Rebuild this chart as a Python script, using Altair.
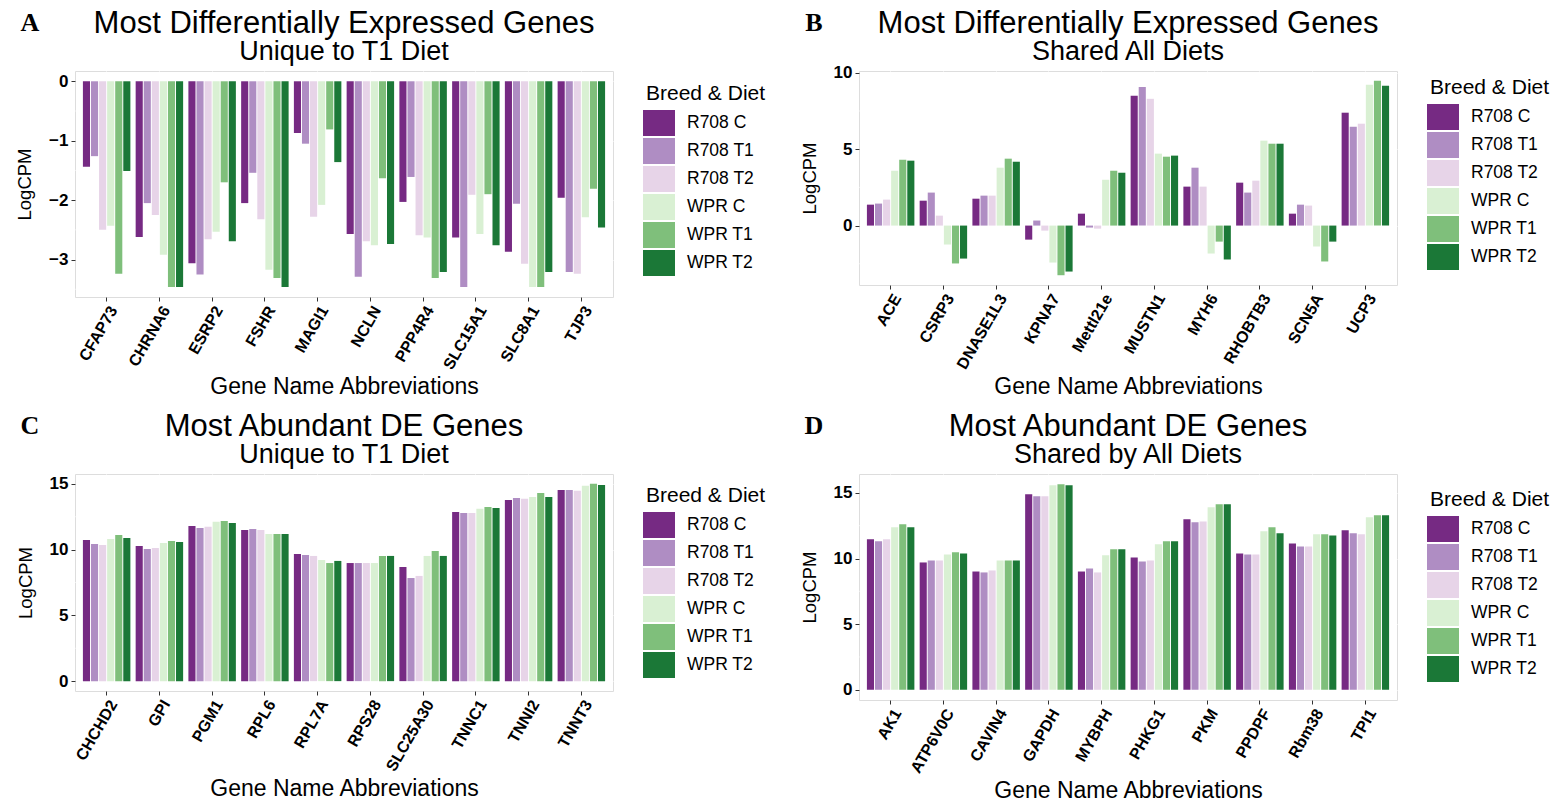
import altair as alt
import pandas as pd

FONT = "Liberation Sans"
GROUPS = ["R708 C", "R708 T1", "R708 T2", "WPR C", "WPR T1", "WPR T2"]
COLORS = ["#762a83", "#af8dc3", "#e7d4e8", "#d9f0d3", "#7fbf7b", "#1b7837"]

# ---- Panel A: Most Differentially Expressed Genes, Unique to T1 Diet
A_GENES = ["CFAP73", "CHRNA6", "ESRP2", "FSHR", "MAGI1", "NCLN", "PPP4R4", "SLC15A1", "SLC8A1", "TJP3"]
A_R708_C = [-1.44, -2.62, -3.06, -2.05, -0.87, -2.57, -2.03, -2.63, -2.87, -1.96]
A_R708_T1 = [-1.26, -2.05, -3.25, -1.54, -1.05, -3.29, -1.61, -3.46, -2.06, -3.21]
A_R708_T2 = [-2.50, -2.25, -2.66, -2.32, -2.28, -2.69, -2.59, -1.91, -3.07, -3.24]
A_WPR_C = [-2.43, -2.92, -2.53, -3.17, -2.08, -2.76, -2.63, -2.57, -3.46, -2.29]
A_WPR_T1 = [-3.24, -3.46, -1.70, -3.31, -0.81, -1.63, -3.31, -1.90, -3.46, -1.81]
A_WPR_T2 = [-1.51, -3.46, -2.69, -3.46, -1.36, -2.74, -3.21, -2.76, -3.21, -2.46]

# ---- Panel B: Most Differentially Expressed Genes, Shared All Diets
B_GENES = ["ACE", "CSRP3", "DNASE1L3", "KPNA7", "Mettl21e", "MUSTN1", "MYH6", "RHOBTB3", "SCN5A", "UCP3"]
B_R708_C = [1.37, 1.63, 1.76, -0.92, 0.78, 8.50, 2.55, 2.81, 0.78, 7.39]
B_R708_T1 = [1.44, 2.16, 1.96, 0.33, -0.13, 9.08, 3.79, 2.16, 1.37, 6.47]
B_R708_T2 = [1.70, 0.65, 1.96, -0.33, -0.20, 8.30, 2.55, 2.94, 1.31, 6.67]
B_WPR_C = [3.59, -1.24, 3.79, -2.42, 3.00, 4.71, -1.83, 5.56, -1.37, 9.22]
B_WPR_T1 = [4.31, -2.48, 4.38, -3.25, 3.59, 4.51, -1.05, 5.36, -2.35, 9.48]
B_WPR_T2 = [4.25, -2.16, 4.18, -3.01, 3.46, 4.58, -2.22, 5.36, -1.05, 9.15]

# ---- Panel C: Most Abundant DE Genes, Unique to T1 Diet
C_GENES = ["CHCHD2", "GPI", "PGM1", "RPL6", "RPL7A", "RPS28", "SLC25A30", "TNNC1", "TNNI2", "TNNT3"]
C_R708_C = [10.74, 10.28, 11.80, 11.50, 9.67, 8.98, 8.68, 12.87, 13.78, 14.54]
C_R708_T1 = [10.43, 10.05, 11.65, 11.57, 9.59, 8.98, 7.84, 12.79, 13.93, 14.54]
C_R708_T2 = [10.36, 10.13, 11.73, 11.50, 9.52, 8.98, 8.00, 12.79, 13.86, 14.47]
C_WPR_C = [10.81, 10.51, 12.11, 11.19, 9.21, 8.98, 9.52, 13.10, 14.01, 14.85]
C_WPR_T1 = [11.12, 10.66, 12.18, 11.19, 8.98, 9.52, 9.90, 13.25, 14.31, 15.00]
C_WPR_T2 = [10.89, 10.58, 12.03, 11.19, 9.14, 9.52, 9.52, 13.17, 14.01, 14.92]

# ---- Panel D: Most Abundant DE Genes, Shared by All Diets
D_GENES = ["AK1", "ATP6V0C", "CAVIN4", "GAPDH", "MYBPH", "PHKG1", "PKM", "PPDPF", "Rbm38", "TPI1"]
D_R708_C = [11.46, 9.70, 9.01, 14.90, 9.01, 10.08, 12.99, 10.39, 11.15, 12.15]
D_R708_T1 = [11.31, 9.85, 8.94, 14.74, 9.24, 9.78, 12.76, 10.31, 10.92, 11.92]
D_R708_T2 = [11.46, 9.85, 9.09, 14.74, 8.94, 9.85, 12.83, 10.31, 10.92, 11.84]
D_WPR_C = [12.38, 10.31, 9.85, 15.58, 10.24, 11.08, 13.90, 12.07, 11.84, 13.14]
D_WPR_T1 = [12.61, 10.47, 9.85, 15.66, 10.70, 11.31, 14.13, 12.38, 11.84, 13.29]
D_WPR_T2 = [12.38, 10.39, 9.85, 15.58, 10.70, 11.31, 14.13, 11.92, 11.76, 13.29]

# axis ticks and minor grid positions
A_TICKS = [-3, -2, -1, 0]
A_MINOR = [-3.5, -2.5, -1.5, -0.5]
B_TICKS = [0, 5, 10]
B_MINOR = [-2.5, 2.5, 7.5]
C_TICKS = [0, 5, 10, 15]
C_MINOR = [2.5, 7.5, 12.5]
D_TICKS = [0, 5, 10, 15]
D_MINOR = [2.5, 7.5, 12.5]


def make_df(genes, series):
    rows = []
    for g, vals in zip(GROUPS, series):
        for gene, v in zip(genes, vals):
            rows.append({"gene": gene, "group": g, "value": v})
    return pd.DataFrame(rows)


def text_layer(txt, x, y, size, font=FONT, weight="normal", align="center"):
    return alt.Chart(pd.DataFrame({"t": [txt]})).mark_text(
        font=font, fontWeight=weight, fontSize=size, align=align,
        baseline="alphabetic", color="black"
    ).encode(text="t:N", x=alt.value(x), y=alt.value(y))


def panel(letter, title, subtitle, genes, series, domain, ticks, minors,
          width, height, legend_y):
    df = make_df(genes, series)
    yaxis = alt.Axis(values=ticks, grid=True, gridColor="white", gridWidth=1.1,
                     domain=False, tickColor="#333333", tickSize=4,
                     labelFont=FONT, labelFontSize=17, labelFontWeight="bold",
                     labelColor="black", labelPadding=3,
                     titleFont=FONT, titleFontSize=18.5, titleFontWeight="normal",
                     titleColor="black", titlePadding=14)
    yscale = alt.Scale(domain=domain, nice=False, zero=False)

    minor = alt.Chart(pd.DataFrame({"v": minors})).mark_rule(
        color="white", strokeWidth=0.55
    ).encode(y=alt.Y("v:Q", scale=yscale, axis=yaxis, title="LogCPM"))

    bars = alt.Chart(df).mark_bar().encode(
        x=alt.X("gene:N", sort=genes, title="Gene Name Abbreviations",
                scale=alt.Scale(paddingInner=0.1, paddingOuter=0.15),
                axis=alt.Axis(labelAngle=300, labelAlign="right", labelBaseline="top",
                              labelFont=FONT, labelFontWeight="bold", labelFontSize=16,
                              labelColor="black", labelPadding=2,
                              tickColor="#333333", tickSize=4, domain=False,
                              grid=True, gridColor="white", gridWidth=1.1,
                              bandPosition=0.5,
                              titleFont=FONT, titleFontSize=23, titleFontWeight="normal",
                              titleColor="black", titlePadding=4)),
        xOffset=alt.XOffset("group:N", sort=GROUPS,
                            scale=alt.Scale(paddingInner=0.12)),
        y=alt.Y("value:Q", scale=yscale, axis=yaxis, title="LogCPM"),
        color=alt.Color("group:N", sort=GROUPS,
                        scale=alt.Scale(domain=GROUPS, range=COLORS),
                        legend=alt.Legend(title="Breed & Diet", orient="none",
                                          legendX=width + 33, legendY=legend_y,
                                          titleFont=FONT, titleFontSize=21,
                                          titleFontWeight="normal", titleColor="black",
                                          labelFont=FONT, labelFontSize=17.5,
                                          labelColor="black",
                                          symbolType="M-1.23,-1H1.23V1H-1.23Z",
                                          symbolSize=676, symbolStrokeWidth=0,
                                          symbolOpacity=1, rowPadding=2,
                                          labelOffset=15, titlePadding=6,
                                          padding=0)),
    )

    lab = text_layer(letter, -45, -40, 26, font="Liberation Serif", weight="bold")
    ttl = text_layer(title, width / 2, -38, 31)
    sub = text_layer(subtitle, width / 2, -11, 27)

    return alt.layer(minor, bars, lab, ttl, sub).properties(width=width, height=height)


pA = panel("A", "Most Differentially Expressed Genes", "Unique to T1 Diet",
           A_GENES, [A_R708_C, A_R708_T1, A_R708_T2, A_WPR_C, A_WPR_T1, A_WPR_T2],
           [-3.63, 0.173], A_TICKS, A_MINOR, 538, 226, 12)
pB = panel("B", "Most Differentially Expressed Genes", "Shared All Diets",
           B_GENES, [B_R708_C, B_R708_T1, B_R708_T2, B_WPR_C, B_WPR_T1, B_WPR_T2],
           [-3.89, 10.12], B_TICKS, B_MINOR, 538, 214, 6)
pC = panel("C", "Most Abundant DE Genes", "Unique to T1 Diet",
           C_GENES, [C_R708_C, C_R708_T1, C_R708_T2, C_WPR_C, C_WPR_T1, C_WPR_T2],
           [-0.75, 15.75], C_TICKS, C_MINOR, 538, 217, 11)
pD = panel("D", "Most Abundant DE Genes", "Shared by All Diets",
           D_GENES, [D_R708_C, D_R708_T1, D_R708_T2, D_WPR_C, D_WPR_T1, D_WPR_T2],
           [-0.78, 16.44], D_TICKS, D_MINOR, 538, 226, 15)

chart = alt.concat(pA, pB, pC, pD, columns=2, spacing={"row": 10, "column": 32}).resolve_scale(
    color="independent", x="independent", y="independent", xOffset="independent"
).resolve_legend(color="independent").properties(
    padding={"left": 7, "top": -1, "right": 5, "bottom": 0}
).configure_view(fill="#EBEBEB", stroke=None).configure(background="white")

chart.save("out.html", embed_options={"renderer": "svg", "actions": False})
